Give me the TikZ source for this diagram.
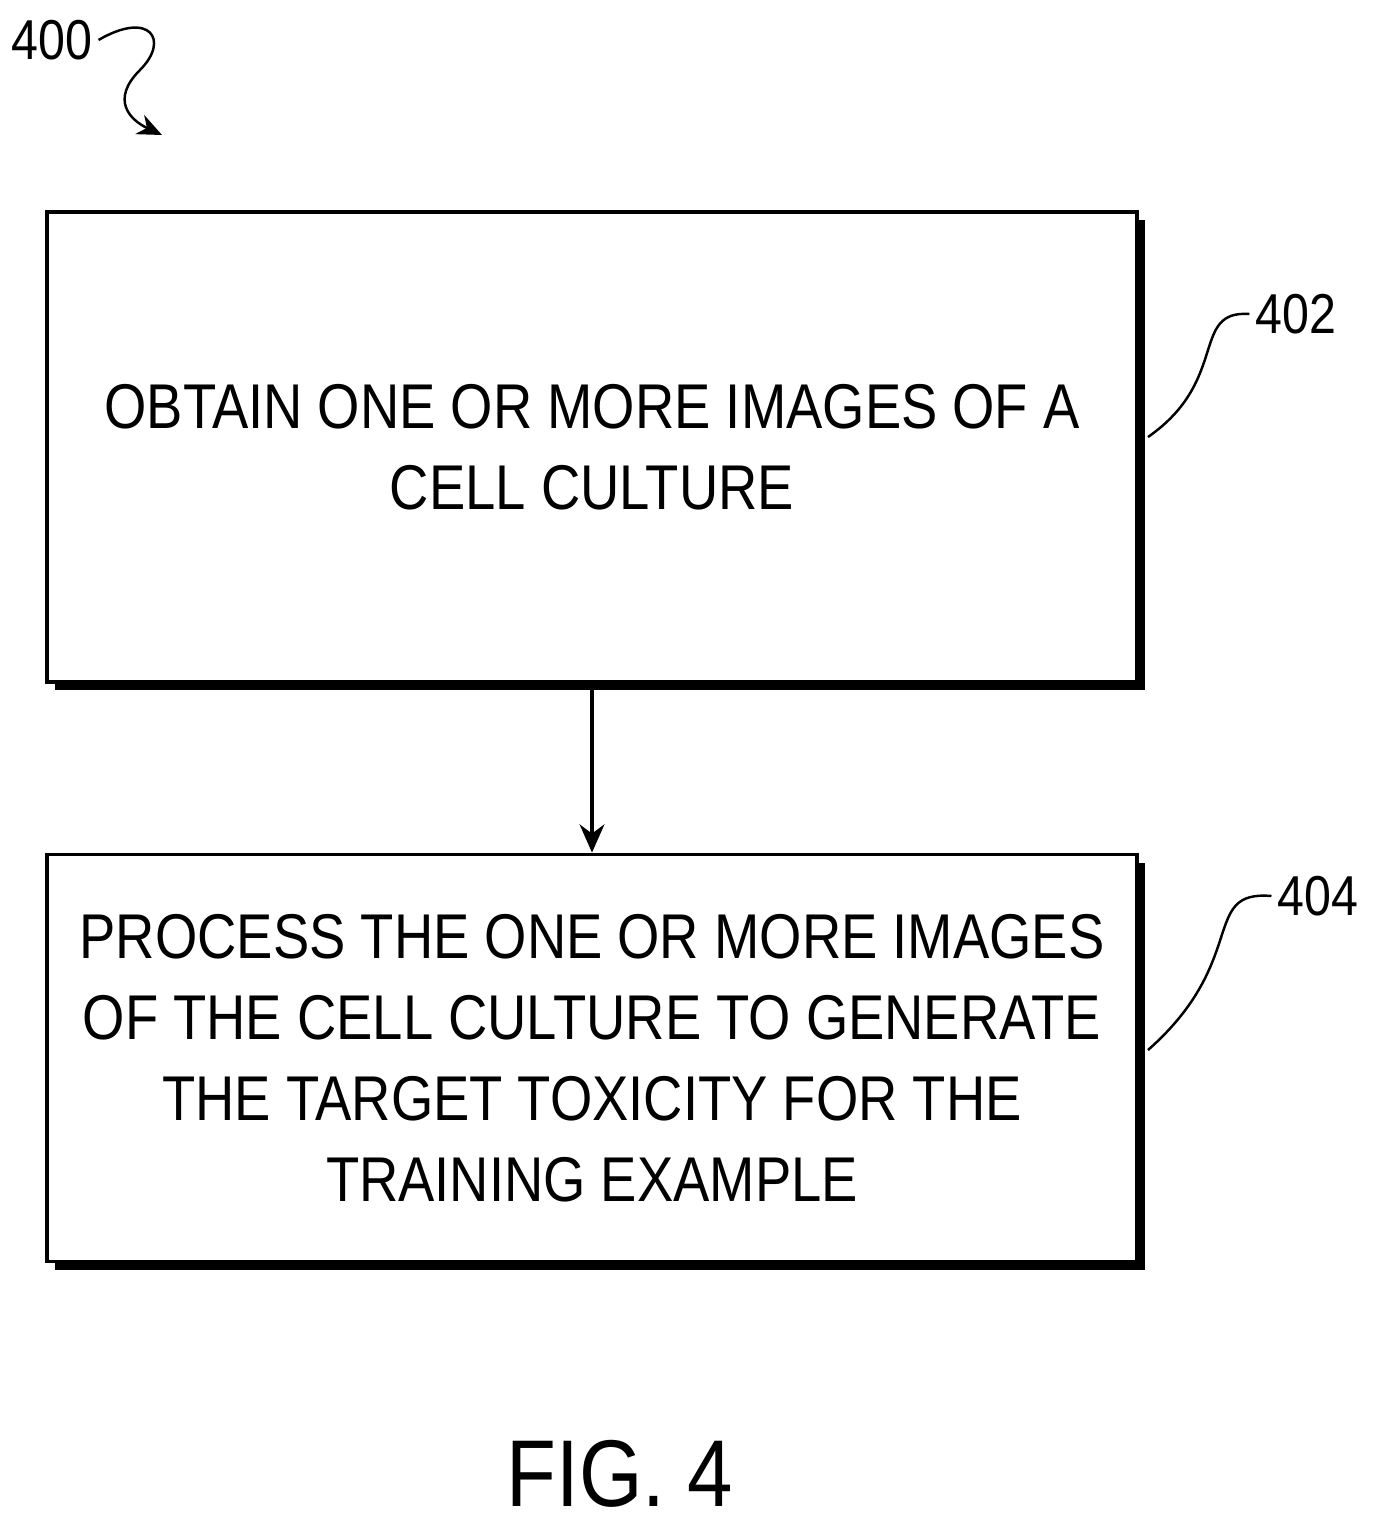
\documentclass[tikz,border=0pt]{standalone}
\usepackage{fontspec}
\setmainfont[FakeStretch=0.86]{Liberation Sans}
\usetikzlibrary{arrows.meta,positioning}
\tikzset{
  stepbox/.style={draw,line width=2.2pt,fill=white,minimum width=21.8cm,align=center,
    font=\fontsize{36}{46}\selectfont},
  shadowbox/.style={fill=black},
  reflabel/.style={font=\fontsize{32}{38}\selectfont},
  leader/.style={line width=1.4pt}
}
\begin{document}
\begin{tikzpicture}[x=0.02cm,y=-0.02cm]
        %RAMKA
        \useasboundingbox (0,0) rectangle (1373,1530);
        %CIEN
        \fill[shadowbox] (55,220) rectangle (1145,690);
        \fill[shadowbox] (55,863) rectangle (1145,1270);
        %BLOKI
        \node[stepbox,minimum height=9.4cm] (obtain) at (592,447) {OBTAIN ONE OR MORE IMAGES OF A\\CELL CULTURE};
        \node[stepbox,minimum height=8.14cm] (process) at (592,1058) {PROCESS THE ONE OR MORE IMAGES\\OF THE CELL CULTURE TO GENERATE\\THE TARGET TOXICITY FOR THE\\TRAINING EXAMPLE};
        %STRZALKA
        \draw[line width=2.4pt,-{Stealth[length=16pt,width=14pt]}] (obtain) -- (process);
        %ETYKIETY
        \node[reflabel] (l400) at (52,40) {400};
        \node[reflabel] (l402) at (1296,314) {402};
        \node[reflabel] (l404) at (1318,896) {404};
        \node[font=\fontsize{54}{62}\selectfont] (fig) at (620,1474) {FIG. 4};
        %LINIE
        \coordinate (a402) at (1148,437);
        \coordinate (a404) at (1148,1050);
        \draw[leader] (a402) .. controls (1230,380) and (1190,310) .. (l402.west);
        \draw[leader] (a404) .. controls (1250,960) and (1200,890) .. (l404.west);
        \coordinate (t400) at (162,135);
        \draw[leader,-{Stealth[length=14pt,width=12pt]}] (l400.east) .. controls (150,10) and (170,40) .. (140,70) .. controls (110,100) and (130,120) .. (t400);
\end{tikzpicture}
\end{document}
